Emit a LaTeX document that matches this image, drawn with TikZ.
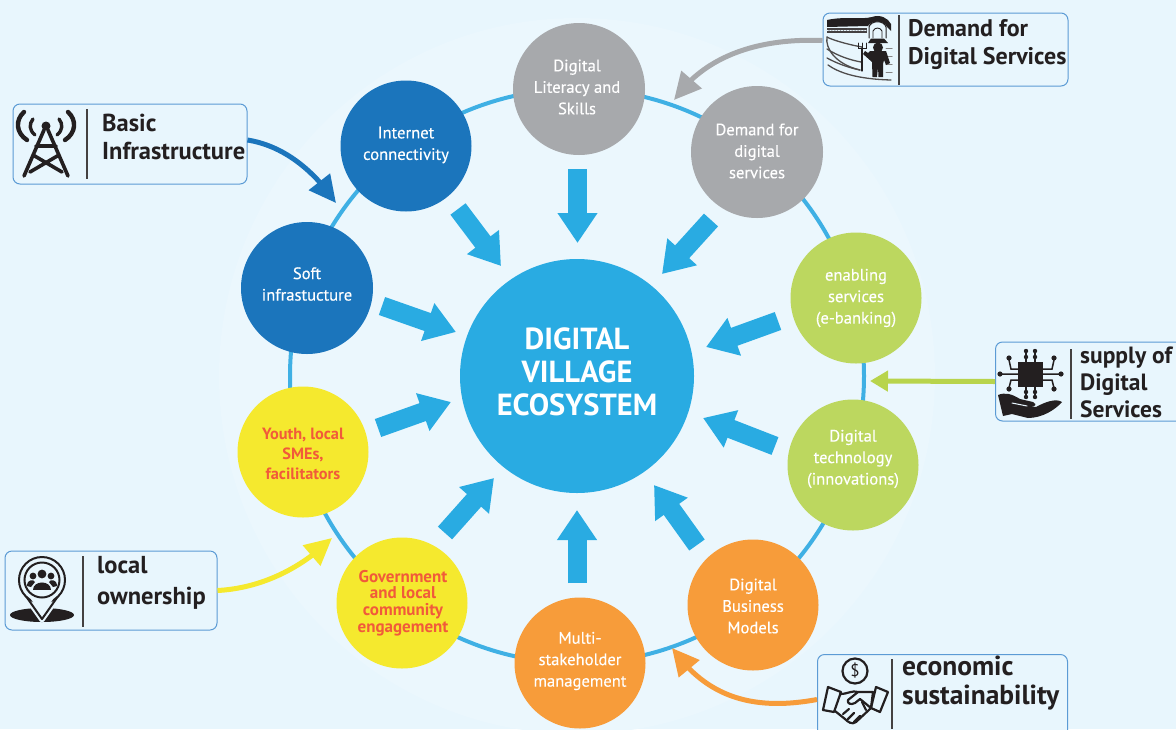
\documentclass[tikz,border=0pt]{standalone}
\usepackage{fontspec}
\setmainfont{PT Sans}
\newfontfamily\hubfont[FakeBold=0.25]{PT Sans}
\usetikzlibrary{arrows.meta,bending}
\definecolor{bg}{HTML}{E8F6FD}
\definecolor{bgb}{HTML}{EBF7FD}
\definecolor{sky}{HTML}{29ABE2}
\definecolor{ringc}{HTML}{3FB0E4}
\definecolor{bluec}{HTML}{1B75BC}
\definecolor{grayc}{HTML}{A7A9AC}
\definecolor{greenc}{HTML}{BCD75F}
\definecolor{greena}{HTML}{B8D44C}
\definecolor{orangec}{HTML}{F79C3A}
\definecolor{yellowc}{HTML}{F5E92E}
\definecolor{redt}{HTML}{F15A3A}
\definecolor{boxl}{HTML}{5B9BD5}
\definecolor{ink}{HTML}{231F20}
\tikzset{
 x=1pt,y=-1pt,
 hub/.style={circle,draw=none,minimum size=#1,inner sep=0pt},
 hubtext/.style={align=center,text=white,inner sep=0pt,font=\hubfont\fontsize{16.6}{21.5}\selectfont},
 redtext/.style={hubtext,text=redt},
 title/.style={align=center,text=white,inner sep=0pt,font=\fontsize{30.5}{33}\selectfont\bfseries},
 blockarrow/.style={draw=sky,line width=19pt,-{Triangle[length=30pt,width=38pt]}},
 sidearrow/.style={line width=5pt,-{Triangle[length=27pt,width=26pt]}},
 labelbox/.style={draw=boxl,line width=1pt,rounded corners=7pt,fill=bg,inner sep=0pt},
 labeltext/.style={anchor=west,align=left,text=ink,inner sep=0pt,
   font=\fontsize{24}{28.5}\selectfont\bfseries},
 divider/.style={draw=ink!85,line width=1.6pt},
}
\begin{document}
\begin{tikzpicture}
\useasboundingbox (0,0) rectangle (1176,729);
\fill[bg] (0,0) rectangle (1176,729);
\fill[bgb] (577,376) circle[radius=358];
% ring
\coordinate (ringc) at (577,376);
\draw[ringc,line width=4pt] (ringc) circle[radius=287];
% hubs
\node[hub=234pt,fill=sky] (center) at (577,376) {};
\node[hub=132pt,fill=grayc] (lit) at (579,89) {};
\node[hub=132pt,fill=grayc] (dem) at (757,152) {};
\node[hub=131pt,fill=greenc] (ena) at (856,298) {};
\node[hub=131pt,fill=greenc] (tec) at (853,465) {};
\node[hub=131pt,fill=orangec] (bus) at (753,605) {};
\node[hub=131pt,fill=orangec] (mul) at (580,663) {};
\node[hub=131pt,fill=yellowc] (gov) at (402,603) {};
\node[hub=131pt,fill=yellowc] (you) at (303,452) {};
\node[hub=132pt,fill=bluec] (sof) at (307,288) {};
\node[hub=131pt,fill=bluec] (int) at (406,146) {};
\node[title] (tcenter) at (577,372) {DIGITAL\\VILLAGE\\ECOSYSTEM};
\node[hubtext] (tlit) at (577,87) {Digital\\Literacy and\\Skills};
\node[hubtext] (tdemh) at (757,151) {Demand for\\digital\\services};
\node[hubtext] (tena) at (856,298) {enabling\\services\\(e-banking)};
\node[hubtext] (ttec) at (853,459) {Digital\\technology\\(innovations)};
\node[hubtext] (tbus) at (753,606) {Digital\\Business\\Models};
\node[hubtext] (tmul) at (580,661) {Multi-\\stakeholder\\management};
\node[redtext,font=\fontsize{17}{16.7}\selectfont\bfseries] (tgov) at (403,603) {Government\\and local\\community\\engagement};
\node[redtext,font=\fontsize{16.3}{20}\selectfont\bfseries] (tyou) at (303,454) {Youth, local\\SMEs,\\facilitators};
\node[hubtext] (tsof) at (307,284) {Soft\\infrastucture};
\node[hubtext] (tint) at (406,145) {Internet\\connectivity};
% block arrows
\coordinate (a1s) at (577.5,169); \coordinate (a1e) at (577.5,243);
\coordinate (a2s) at (711,220); \coordinate (a2e) at (662,274);
\coordinate (a3s) at (778,321); \coordinate (a3e) at (706,347);
\coordinate (a4s) at (775,446); \coordinate (a4e) at (703,418);
\coordinate (a5s) at (697,545); \coordinate (a5e) at (654,485);
\coordinate (a6s) at (577,583); \coordinate (a6e) at (577,510);
\coordinate (a7s) at (445,533); \coordinate (a7e) at (494,478);
\coordinate (a8s) at (378,428); \coordinate (a8e) at (451,402);
\coordinate (a9s) at (382,306); \coordinate (a9e) at (456,332);
\coordinate (a10s) at (458,209); \coordinate (a10e) at (501,266);
\foreach \i in {1,...,10}{\draw[blockarrow] (a\i s) -- (a\i e);}
% label boxes
\node[labelbox,minimum width=245pt,minimum height=73pt] (bdem) at (945.5,49.5) {};
\node[labelbox,minimum width=234pt,minimum height=80pt] (bbas) at (130,144) {};
\node[labelbox,minimum width=200pt,minimum height=79pt,anchor=west] (bsup) at (995,381.5) {};
\node[labelbox,minimum width=212pt,minimum height=79pt] (bloc) at (111,590.5) {};
\node[labelbox,minimum width=250pt,minimum height=90pt,anchor=north west] (beco) at (817,654) {};
\node[labeltext] (tdem) at (908,44.5) {Demand for\\Digital Services};
\node[labeltext,font=\fontsize{24.5}{28.5}\selectfont\bfseries] (tbas) at (102,137) {Basic\\Infrastructure};
\node[labeltext,font=\fontsize{23.5}{27}\selectfont\bfseries] (tsup) at (1080,382) {supply of\\Digital\\Services};
\node[labeltext,font=\fontsize{24.5}{31}\selectfont\bfseries] (tloc) at (97,583) {local\\ownership};
\node[labeltext,font=\fontsize{27.5}{29}\selectfont\bfseries] (teco) at (902,683) {economic\\sustainability};
% dividers
\draw[divider] (899,15) -- (899,85);
\draw[divider] (87,109) -- (87,179);
\draw[divider] (1071,349) -- (1071,419);
\draw[divider] (83,556) -- (83,627);
\draw[divider] (892,659) -- (892,729);
% side connectors
\coordinate (pbas) at (336,203);
\coordinate (pdem) at (674,100);
\coordinate (psup) at (870,381);
\coordinate (ploc) at (332,538);
\coordinate (peco) at (672,648);
\draw[sidearrow,draw=bluec] (bbas.east) ++(0,-4) .. controls (285,146) and (315,172) .. (pbas);
\draw[sidearrow,draw=grayc] (bdem.west) ++(0,-9) .. controls (760,38) and (705,55) .. (pdem);
\draw[sidearrow,draw=greena,-{Triangle[length=18pt,width=20pt]}] (bsup.west) -- (psup);
\draw[sidearrow,draw=yellowc] (bloc.east) .. controls (265,588) and (305,565) .. (ploc);
\draw[sidearrow,draw=orangec] (beco.west) ++(0,0) .. controls (750,712) and (705,695) .. (peco);
% tower icon
\begin{scope}[line cap=round]
\fill[ink] (46,126) circle[radius=4.5];
\draw[ink,line width=3.6pt,line join=round] (24,176) -- (44,130) (68,176) -- (48,130) (36,146) -- (56,146) (33,155) -- (62,172) (59,155) -- (30,172);
\draw[ink,line width=3.4pt] (33,119) .. controls (29,124) and (29,130) .. (35,135);
\draw[ink,line width=3.4pt] (59,119) .. controls (63,124) and (63,130) .. (57,135);
\draw[ink,line width=4.4pt] (24,112) .. controls (15,120) and (16,133) .. (27,140);
\draw[ink,line width=4.4pt] (68,112) .. controls (77,120) and (76,133) .. (65,140);
% farmer icon
\fill[ink] (827,20) .. controls (845,16) and (860,20) .. (872,17) .. controls (880,14) and (888,18) .. (891,24) -- (891,31) -- (887,27) .. controls (884,20) and (872,20) .. (868,26) -- (827,27) -- cycle;
\draw[ink,line width=1pt] (869,38) -- (869,27) .. controls (871,20) and (884,20) .. (886,27) -- (886,38);
\draw[ink,line width=0.9pt] (873,38) -- (873,31) .. controls (875,27) and (880,27) .. (882,31) -- (882,38);
\fill[ink!85] (827,28) rectangle (867,33);
\draw[bg,line width=1.6pt,dash pattern=on 1.1pt off 1.8pt] (827,30.5) -- (867,30.5);
\draw[ink!80,line width=1.3pt] (827,37) .. controls (830,39) and (845,44) .. (862,47);
\draw[ink!80,line width=1.3pt] (827,37) .. controls (825,48) and (835,64) .. (860,70);
\draw[ink!80,line width=1.3pt] (827,49) .. controls (838,56) and (850,60) .. (861,62);
\draw[ink!80,line width=1.3pt] (827,58) .. controls (838,64) and (850,68) .. (860,70);
\draw[ink!80,line width=1.3pt] (828,65) .. controls (838,72) and (855,79) .. (891,80);
\foreach \yy in {48,56,64,72}{\draw[ink!55,line width=1pt] (886,\yy) -- (892,\yy);}
\fill[ink] (868,43) -- (888,43) -- (884,38.5) -- (871,38.5) -- cycle;
\fill[ink] (878,47.5) circle[radius=5];
\fill[ink] (870,51) -- (886,51) -- (890,63) -- (886,65) -- (884,60) -- (883,64) -- (883,77) -- (878.5,77) -- (878,67) -- (877,77) -- (872.5,77) -- (872,62) -- (863,54) -- (865,51) -- (868,53) -- cycle;
\draw[ink,line width=1.2pt] (862,48) -- (862,71);
\draw[ink,line width=1pt] (858,43) -- (858,48) -- (866,48) -- (866,43) (862,43) -- (862,48);
% chip icon
\fill[ink] (1018,362) rectangle (1043,387);
\foreach \xx in {1026,1035}{
  \fill[ink] (\xx,351) circle[radius=2.2]; \fill[ink] (\xx,357) circle[radius=2.2];
  \draw[ink,line width=1.2pt] (\xx,351) -- (\xx,362);
  \fill[ink] (\xx,392) circle[radius=2.2]; \fill[ink] (\xx,397) circle[radius=2.2];
  \draw[ink,line width=1.2pt] (\xx,387) -- (\xx,397);}
\draw[ink,line width=1.5pt] (1000,374) -- (1018,374) (1043,374) -- (1061,374)
  (1018,369) -- (1011,369) -- (1009,360) (1043,369) -- (1052,369) -- (1054,360)
  (1018,380) -- (1011,380) -- (1009,388) (1043,380) -- (1052,380) -- (1054,388);
\foreach \pp in {(1000,374),(1061,374),(1009,358),(1054,358),(1009,389),(1054,389)}{\fill[ink] \pp circle[radius=2.6];}
\fill[ink] (998,395) .. controls (1005,392) and (1012,394) .. (1020,399) -- (1033,402) .. controls (1038,405) and (1035,407) .. (1029,406) -- (1036,407) .. controls (1045,402) and (1056,398) .. (1062,402) .. controls (1055,410) and (1042,418) .. (1028,418) -- (1012,414) -- (1003,416) -- cycle;
\draw[bg,line width=1pt] (1012,403) -- (1027,406);
% pin icon
\fill[ink] (42,615) ellipse[x radius=32,y radius=7];
\draw[bg,line width=5pt,line join=round] (23,593) -- (42,620) -- (61,593);
\fill[bg] (23,593) -- (42,620) -- (61,593) -- cycle;
\draw[ink,line width=2pt,line join=round,fill=bg] (23,592) -- (42,619) -- (61,592) -- cycle;
\draw[ink,line width=2pt,fill=bg] (42,580) circle[radius=23];
\fill[bg] (25,590) -- (42,616) -- (59,590) -- cycle;
\draw[ink,line width=2pt] (42,580) circle[radius=17.5];
\fill[ink] (42,574) circle[radius=4.4] (33,576) circle[radius=3.4] (51,576) circle[radius=3.4];
\fill[ink] (33,590) .. controls (33,580) and (51,580) .. (51,590) -- cycle;
\fill[ink] (27,586) .. controls (27,579) and (34,579) .. (35,582) -- (31,587) -- cycle;
\fill[ink] (57,586) .. controls (57,579) and (50,579) .. (49,582) -- (53,587) -- cycle;
% handshake icon
\draw[ink,line width=2.2pt] (855,671) circle[radius=12.5];
\node[inner sep=0pt,text=ink,font=\fontsize{17}{17}\selectfont] (dollar) at (855,671) {\$};
\begin{scope}[ink,line width=2.2pt,line join=round]
\draw (828,687) -- (823,710) -- (834,712) -- (841,692) -- cycle;
\draw (876,687) -- (888,692) -- (880,712) -- (871,708) -- cycle;
\draw (840,694) .. controls (848,694) and (852,690) .. (858,692) -- (873,692);
\draw (873,692) -- (871,708) -- (856,722) .. controls (852,725) and (848,722) .. (845,719) -- (835,711);
\draw (858,692) -- (848,700) .. controls (847,704) and (851,705) .. (855,703) -- (860,699) -- (871,708);
\draw (843,714) -- (849,709) (848,719) -- (854,713) (854,722) -- (860,716) (862,702) -- (866,710);
\end{scope}
\end{scope}
\end{tikzpicture}
\end{document}
